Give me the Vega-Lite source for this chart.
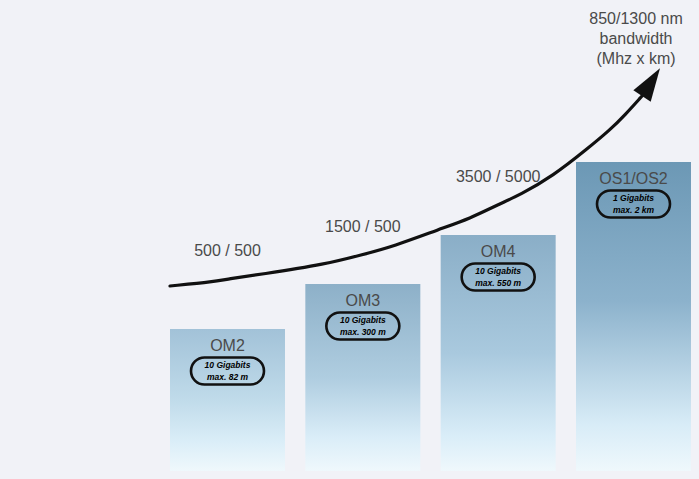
{
  "$schema": "https://vega.github.io/schema/vega-lite/v6.json",
  "width": 699,
  "height": 479,
  "autosize": {"type": "fit", "contains": "padding"},
  "padding": 0,
  "background": "#f1f2f7",
  "config": {"view": {"stroke": null}, "text": {"font": "Liberation Sans"}},
  "datasets": {
    "fibers": [
      {"fiber": "OM2", "pos": 1, "value": 142, "speed": "10 Gigabits", "reach": "max. 82 m"},
      {"fiber": "OM3", "pos": 2, "value": 187, "speed": "10 Gigabits", "reach": "max. 300 m"},
      {"fiber": "OM4", "pos": 3, "value": 236, "speed": "10 Gigabits", "reach": "max. 550 m"},
      {"fiber": "OS1/OS2", "pos": 4, "value": 309, "speed": "1 Gigabits", "reach": "max. 2 km"}
    ],
    "curve": [
      {"pos": 0.575, "value": 185},
      {"pos": 0.908, "value": 189.5},
      {"pos": 1.0, "value": 192, "label": "500 / 500"},
      {"pos": 1.24, "value": 196.5},
      {"pos": 1.735, "value": 207},
      {"pos": 2.0, "value": 216.5, "label": "1500 / 500"},
      {"pos": 2.223, "value": 224.5},
      {"pos": 2.57, "value": 242},
      {"pos": 2.792, "value": 252.5},
      {"pos": 3.0, "value": 266.5, "label": "3500 / 5000"},
      {"pos": 3.161, "value": 276},
      {"pos": 3.405, "value": 295},
      {"pos": 3.657, "value": 322},
      {"pos": 3.826, "value": 341},
      {"pos": 3.937, "value": 356},
      {"pos": 4.063, "value": 375, "note": "850/1300 nm\nbandwidth\n(Mhz x km)"}
    ]
  },
  "encoding": {
    "x": {"field": "pos", "type": "quantitative", "scale": {"domain": [-0.681, 4.484], "nice": false, "zero": false, "padding": 0}, "axis": null},
    "y": {"field": "value", "type": "quantitative", "scale": {"domain": [-8, 471], "nice": false, "zero": false, "padding": 0}, "axis": null}
  },
  "layer": [
    {
      "data": {"name": "fibers"},
      "transform": [{"filter": "datum.fiber === 'OM2'"}],
      "mark": {"type": "bar", "orient": "vertical", "width": 115, "stroke": null,
        "fill": {"gradient": "linear", "x1": 0, "y1": 0, "x2": 0, "y2": 1,
          "stops": [{"offset": 0, "color": "#a2c2d8"}, {"offset": 0.5, "color": "#c0dbea"}, {"offset": 0.8, "color": "#dbeef8"}, {"offset": 1, "color": "#eff8fc"}]}}
    },
    {
      "data": {"name": "fibers"},
      "transform": [{"filter": "datum.fiber === 'OM3'"}],
      "mark": {"type": "bar", "orient": "vertical", "width": 115, "stroke": null,
        "fill": {"gradient": "linear", "x1": 0, "y1": 0, "x2": 0, "y2": 1,
          "stops": [{"offset": 0, "color": "#8db0c8"}, {"offset": 0.5, "color": "#afcde0"}, {"offset": 0.82, "color": "#daedf8"}, {"offset": 1, "color": "#eff8fc"}]}}
    },
    {
      "data": {"name": "fibers"},
      "transform": [{"filter": "datum.fiber === 'OM4'"}],
      "mark": {"type": "bar", "orient": "vertical", "width": 115, "stroke": null,
        "fill": {"gradient": "linear", "x1": 0, "y1": 0, "x2": 0, "y2": 1,
          "stops": [{"offset": 0, "color": "#8aaec7"}, {"offset": 0.5, "color": "#a9c9de"}, {"offset": 0.85, "color": "#d9edf8"}, {"offset": 1, "color": "#eff8fc"}]}}
    },
    {
      "data": {"name": "fibers"},
      "transform": [{"filter": "datum.fiber === 'OS1/OS2'"}],
      "mark": {"type": "bar", "orient": "vertical", "width": 115, "stroke": null,
        "fill": {"gradient": "linear", "x1": 0, "y1": 0, "x2": 0, "y2": 1,
          "stops": [{"offset": 0, "color": "#6c98b5"}, {"offset": 0.45, "color": "#8cb2cc"}, {"offset": 0.85, "color": "#d8ecf7"}, {"offset": 1, "color": "#eff8fc"}]}}
    },
    {
      "data": {"name": "fibers"},
      "mark": {"type": "text", "dy": 17, "baseline": "middle", "align": "center", "fontSize": 16, "color": "#4a4a4a"},
      "encoding": {"text": {"field": "fiber"}}
    },
    {
      "data": {"name": "fibers"},
      "mark": {"type": "point", "yOffset": 42, "filled": false, "opacity": 1, "stroke": "#111111", "strokeWidth": 2.6, "size": 5329,
        "shape": "M-0.63,-0.37L0.63,-0.37C0.8343,-0.37,1,-0.2043,1,0C1,0.2043,0.8343,0.37,0.63,0.37L-0.63,0.37C-0.8343,0.37,-1,0.2043,-1,0C-1,-0.2043,-0.8343,-0.37,-0.63,-0.37Z"}
    },
    {
      "data": {"name": "fibers"},
      "mark": {"type": "text", "dy": 36, "baseline": "middle", "align": "center", "fontSize": 8.5, "fontWeight": "bold", "fontStyle": "italic", "color": "#000000"},
      "encoding": {"text": {"field": "speed"}}
    },
    {
      "data": {"name": "fibers"},
      "mark": {"type": "text", "dy": 48, "baseline": "middle", "align": "center", "fontSize": 8.5, "fontWeight": "bold", "fontStyle": "italic", "color": "#000000"},
      "encoding": {"text": {"field": "reach"}}
    },
    {
      "data": {"name": "curve"},
      "mark": {"type": "line", "interpolate": "basis", "strokeWidth": 3.2, "color": "#111111", "strokeCap": "round"},
      "encoding": {}
    },
    {
      "data": {"name": "curve"},
      "transform": [{"filter": "isValid(datum.label)"}],
      "mark": {"type": "text", "dy": -28, "baseline": "middle", "align": "center", "fontSize": 16, "color": "#4a4a4a"},
      "encoding": {"text": {"field": "label"}}
    },
    {
      "data": {"name": "curve"},
      "transform": [{"filter": "datum.pos > 4"}],
      "mark": {"type": "point", "filled": true, "opacity": 1, "color": "#111111", "size": 1936, "angle": 33,
        "shape": "M0,-1.5L0.47,0L-0.47,0Z"}
    },
    {
      "data": {"name": "curve"},
      "transform": [{"filter": "datum.pos > 4"}],
      "mark": {"type": "text", "dx": -6, "dy": -77, "baseline": "middle", "align": "center", "fontSize": 16, "lineHeight": 20, "lineBreak": "\n", "color": "#4a4a4a"},
      "encoding": {"text": {"field": "note"}}
    }
  ]
}
